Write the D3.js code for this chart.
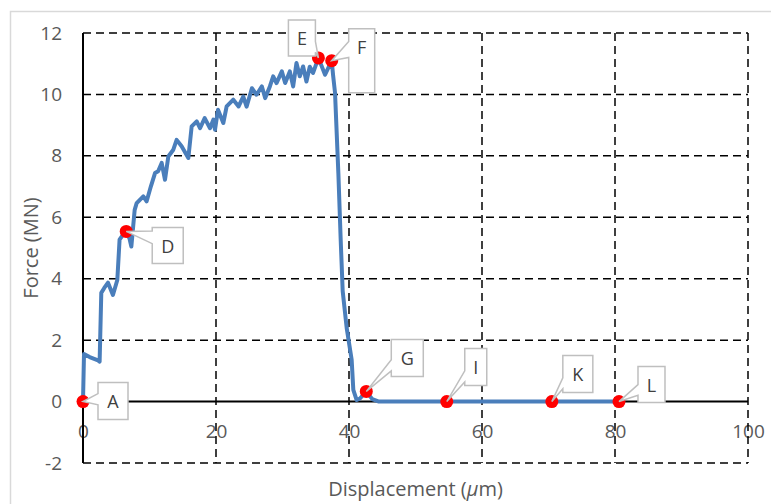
<!DOCTYPE html>
<html>
<head>
<meta charset="utf-8">
<script src="https://cdn.jsdelivr.net/npm/d3@7"></script>
<style>
body{margin:0;background:#fff}
svg{display:block}
text{font-family:"Open Sans",sans-serif}
</style>
</head>
<body>
<svg id="chart"></svg>
<script>
// displacement (um) and force (MN)
const dispValues = [0,0.15,1.0,2.26,2.5,2.75,3.2,3.76,4.5,5.16,5.5,6.0,6.5,7.0,7.27,7.77,8.07,9.07,9.57,10.2,10.83,11.3,11.83,12.33,12.83,13.58,14.08,14.83,15.84,16.34,17.1,17.6,18.3,19.1,19.6,19.85,20.3,21.1,21.6,22.6,23.4,24.1,24.6,25.4,26.1,26.9,27.4,28.1,28.6,29.1,29.9,30.4,31.1,31.6,32.1,32.6,33.1,33.6,34.1,34.6,35.4,36.4,37.4,37.6,37.9,38.4,38.75,39.05,39.65,40.4,40.65,41.15,41.65,42.6,43.5,44.5,50,54.7,60,70.5,80.6,81];
const forceValues = [0,1.55,1.45,1.34,1.3,3.54,3.7,3.87,3.47,3.96,5.27,5.43,5.54,5.3,5.05,6.24,6.46,6.68,6.52,7.0,7.44,7.5,7.77,7.22,7.98,8.2,8.52,8.31,7.93,8.96,9.12,8.9,9.23,8.9,9.18,8.85,9.5,9.07,9.61,9.83,9.61,9.93,9.6,10.2,9.99,10.26,9.88,10.26,10.59,10.37,10.75,10.37,10.75,10.26,11.02,10.59,10.91,10.42,10.9,10.7,11.19,10.64,11.1,10.64,10.05,7.44,5.27,3.6,2.4,1.36,0.38,0.05,0.1,0.33,0.08,0,0,0,0,0,0,0];

// marked points
const pointLabels = ["A","D","E","F","G","I","K","L"];
const pointDisp = [0,6.5,35.4,37.4,42.6,54.7,70.5,80.6];
const pointForce = [0,5.54,11.19,11.1,0.33,0,0,0];

const xTicks = [0,20,40,60,80,100];
const yTicks = [-2,0,2,4,6,8,10,12];

// callout box placement relative to the marker (pixels)
const callout = {
  A:{dx:15,dy:-19,w:30,h:37,side:"left",base:[0.3,0.6]},
  D:{dx:26,dy:-4,w:31,h:36,side:"left",base:[0.1,0.45]},
  E:{dx:-30,dy:-38,w:27,h:36,side:"right",base:[0.6,0.9]},
  F:{dx:17,dy:-32,w:26,h:64,side:"left",base:[0.2,0.45]},
  G:{dx:25,dy:-52,w:32,h:37,side:"left",base:[0.55,0.85]},
  I:{dx:18,dy:-53,w:22,h:37,side:"left",base:[0.6,0.9]},
  K:{dx:11,dy:-46,w:30,h:37,side:"left",base:[0.6,0.9]},
  L:{dx:19,dy:-35,w:27,h:36,side:"left",base:[0.5,0.8]}
};

const w = 771, h = 504;
const plotLeft = 83, plotRight = 748, plotTop = 33, plotBottom = 463;
const lineColor = "#4a7ebb";

let svg = d3.select("#chart").attr("width",w).attr("height",h);

// light chart border
svg.append("rect").attr("x",10.5).attr("y",11.5).attr("width",800).attr("height",600)
  .attr("fill","none").attr("stroke","#d9d9d9").attr("stroke-width",1.5);

let xScale = d3.scaleLinear().domain([0,100]).range([plotLeft,plotRight]);
let yScale = d3.scaleLinear().domain([-2,12]).range([plotBottom,plotTop]);

// tick labels (plain hyphen for negatives, like the original)
let yAxis = svg.append("g").attr("transform","translate("+plotLeft+",0)")
  .call(d3.axisLeft(yScale).tickValues(yTicks).tickFormat(d=>String(d)).tickSize(0).tickPadding(21));
let xAxis = svg.append("g").attr("transform","translate(0,"+yScale(0)+")")
  .call(d3.axisBottom(xScale).tickValues(xTicks).tickFormat(d=>String(d)).tickSize(0).tickPadding(23));
[xAxis,yAxis].forEach(g=>{
  g.select(".domain").remove();
  g.selectAll("text").attr("fill","#595959").style("font-size","19px").style("font-family","'Open Sans',sans-serif");
});

// dashed grid
svg.append("g").selectAll("line").data(yTicks.filter(d=>d!==0)).enter().append("line")
  .attr("x1",plotLeft).attr("x2",plotRight).attr("y1",d=>yScale(d)).attr("y2",d=>yScale(d))
  .attr("stroke","#000").attr("stroke-width",1.5).attr("stroke-dasharray","8,5");
svg.append("g").selectAll("line").data(xTicks.filter(d=>d!==0)).enter().append("line")
  .attr("x1",d=>xScale(d)).attr("x2",d=>xScale(d)).attr("y1",plotTop).attr("y2",plotBottom)
  .attr("stroke","#000").attr("stroke-width",1.5).attr("stroke-dasharray","8,5");

// solid axis lines
svg.append("line").attr("x1",xScale(0)).attr("x2",xScale(0)).attr("y1",plotTop).attr("y2",plotBottom)
  .attr("stroke","#000").attr("stroke-width",2);
svg.append("line").attr("x1",plotLeft).attr("x2",plotRight).attr("y1",yScale(0)).attr("y2",yScale(0))
  .attr("stroke","#000").attr("stroke-width",2);

// force curve
let line = d3.line().x(d=>xScale(d[0])).y(d=>yScale(d[1]));
svg.append("path").datum(dispValues.map((d,i)=>[d,forceValues[i]]))
  .attr("d",line).attr("fill","none").attr("stroke",lineColor)
  .attr("stroke-width",4).attr("stroke-linejoin","round").attr("stroke-linecap","round");

// red markers
let pts = pointLabels.map((l,i)=>({label:l,x:xScale(pointDisp[i]),y:yScale(pointForce[i])}));
svg.append("g").selectAll("circle").data(pts).enter().append("circle")
  .attr("cx",d=>d.x).attr("cy",d=>d.y).attr("r",6.5).attr("fill","#ff0000");

// callouts with a wedge pointing at the marker
let calloutPath = (p)=>{
  let c = callout[p.label];
  let x0 = p.x+c.dx, y0 = p.y+c.dy, x1 = x0+c.w, y1 = y0+c.h;
  let b1 = y0+c.h*c.base[0], b2 = y0+c.h*c.base[1];
  if(c.side==="left"){
    return `M${x0},${y0}L${x1},${y0}L${x1},${y1}L${x0},${y1}L${x0},${b2}L${p.x},${p.y}L${x0},${b1}Z`;
  }
  return `M${x0},${y0}L${x1},${y0}L${x1},${b1}L${p.x},${p.y}L${x1},${b2}L${x1},${y1}L${x0},${y1}Z`;
};
let co = svg.append("g").selectAll("g").data(pts).enter().append("g");
co.append("path").attr("d",calloutPath).attr("fill","#fff").attr("stroke","#bfbfbf").attr("stroke-width",1.5);
co.append("text").attr("x",d=>d.x+callout[d.label].dx+callout[d.label].w/2)
  .attr("y",d=>d.y+callout[d.label].dy+18.5).attr("text-anchor","middle")
  .attr("dominant-baseline","central").attr("fill","#404040").style("font-size","18px")
  .text(d=>d.label);

// axis titles
let xt = svg.append("text").attr("x",(plotLeft+plotRight)/2).attr("y",488).attr("text-anchor","middle")
  .attr("dominant-baseline","central").attr("fill","#595959").style("font-size","20px");
xt.append("tspan").text("Displacement (");
xt.append("tspan").style("font-style","italic").text("μ");
xt.append("tspan").text("m)");
svg.append("text").attr("transform","translate(30,"+(plotTop+plotBottom)/2+") rotate(-90)")
  .attr("text-anchor","middle").attr("dominant-baseline","central")
  .attr("fill","#595959").style("font-size","20px").text("Force (MN)");
</script>
</body>
</html>
